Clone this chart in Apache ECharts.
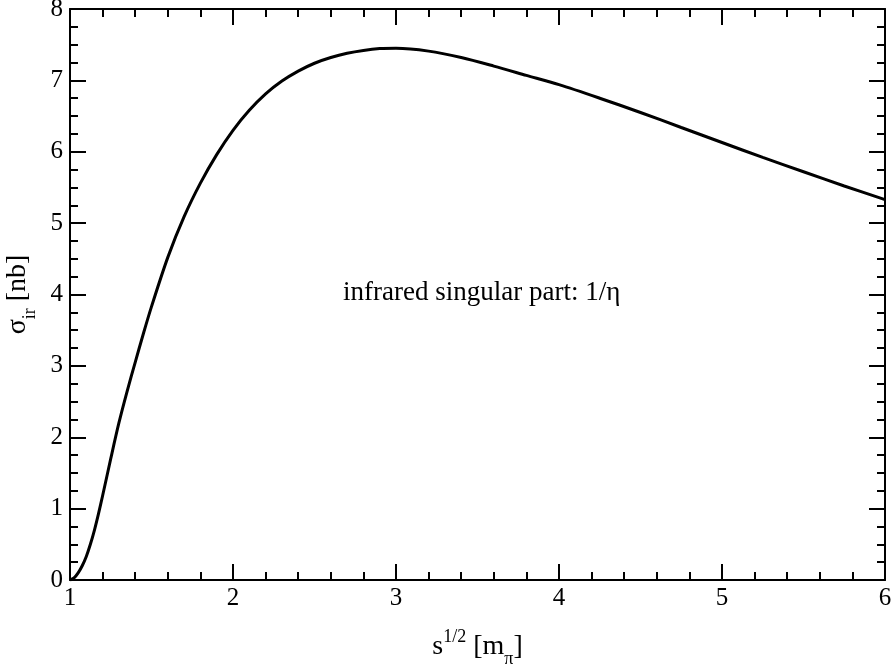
<!DOCTYPE html>
<html>
<head>
<meta charset="utf-8">
<script src="https://cdn.jsdelivr.net/npm/echarts@6/dist/echarts.min.js"></script>
<style>html,body{margin:0;padding:0;background:#fff}#c{width:893px;height:665px}</style>
</head>
<body>
<div id="c"></div>
<script>
const sqrtS = [1.0, 1.025, 1.05, 1.075, 1.1, 1.125, 1.15, 1.175, 1.2, 1.25, 1.3, 1.35, 1.4, 1.45, 1.5, 1.6, 1.7, 1.8, 1.9, 2.0, 2.1, 2.2, 2.3, 2.4, 2.5, 2.6, 2.7, 2.8, 2.9, 3.0, 3.2, 3.4, 3.6, 3.8, 4.0, 4.25, 4.5, 4.75, 5.0, 5.25, 5.5, 5.75, 6.0];
const sigmaIr = [0, 0.03, 0.1, 0.2, 0.33, 0.5, 0.7, 0.93, 1.18, 1.7, 2.2, 2.64, 3.05, 3.45, 3.83, 4.52, 5.09, 5.56, 5.96, 6.3, 6.58, 6.81, 6.99, 7.13, 7.24, 7.32, 7.38, 7.42, 7.445, 7.45, 7.41, 7.32, 7.2, 7.07, 6.94, 6.75, 6.55, 6.34, 6.13, 5.92, 5.72, 5.52, 5.33];
const annotation = 'infrared singular part: 1/η';

const FONT = 'Liberation Serif';
const chart = echarts.init(document.getElementById('c'), null, {renderer: 'canvas'});
const axisLine = {show: true, onZero: false, lineStyle: {color: '#000', width: 2}};
const tick = {show: true, inside: true, length: 16, lineStyle: {color: '#000', width: 2}};
const minor = (n) => ({show: true, splitNumber: n, length: 8, lineStyle: {color: '#000', width: 2}});
const series = [{
  type: 'line',
  data: sqrtS.map((x, i) => [x, sigmaIr[i]]),
  showSymbol: false,
  smooth: 0.3,
  lineStyle: {color: '#000', width: 3},
  clip: true
}];
chart.setOption({
  animation: false,
  backgroundColor: '#fff',
  textStyle: {fontFamily: FONT},
  grid: {left: 70, right: 8, top: 9, bottom: 85, containLabel: false, outerBoundsMode: 'none'},
  xAxis: [{
    type: 'value', min: 1, max: 6, interval: 1, position: 'bottom',
    axisLine, axisTick: tick, minorTick: minor(5), splitLine: {show: false},
    axisLabel: {color: '#000', fontSize: 25, fontFamily: FONT, margin: 6},
    name: '{n|s}{sup|1/2}{n| [m}{sub|π}{n|]}',
    nameLocation: 'middle', nameGap: 48,
    nameTextStyle: {
      rich: {
        n: {fontSize: 28, fontFamily: FONT, color: '#000', verticalAlign: 'bottom', lineHeight: 40, padding: [0, 0, 7, 0]},
        sup: {fontSize: 18, fontFamily: FONT, color: '#000', verticalAlign: 'top', lineHeight: 40, padding: [0, 0, 0, 0]},
        sub: {fontSize: 18, fontFamily: FONT, color: '#000', verticalAlign: 'bottom', lineHeight: 40}
      }
    }
  }, {
    type: 'value', min: 1, max: 6, interval: 1, position: 'top',
    axisLine, axisTick: tick, minorTick: minor(5), splitLine: {show: false},
    axisLabel: {show: false}
  }],
  yAxis: [{
    type: 'value', min: 0, max: 8, interval: 1, position: 'left',
    axisLine, axisTick: tick, minorTick: minor(4), splitLine: {show: false},
    axisLabel: {color: '#000', fontSize: 25, fontFamily: FONT, margin: 7},
    name: '{n|σ}{sub|ir}{n| [nb]}',
    nameLocation: 'middle', nameGap: 30, nameRotate: 90,
    nameTextStyle: {
      rich: {
        n: {fontSize: 28, fontFamily: FONT, color: '#000', verticalAlign: 'bottom', lineHeight: 40, padding: [0, 0, 8, 0]},
        sub: {fontSize: 18, fontFamily: FONT, color: '#000', verticalAlign: 'bottom', lineHeight: 40}
      }
    }
  }, {
    type: 'value', min: 0, max: 8, interval: 1, position: 'right',
    axisLine, axisTick: tick, minorTick: minor(4), splitLine: {show: false},
    axisLabel: {show: false}
  }],
  series: series,
  graphic: [{
    type: 'text', left: 343, top: 279,
    style: {text: annotation, fontSize: 27, fontFamily: FONT, fill: '#000'}
  }]
});
</script>
</body>
</html>
